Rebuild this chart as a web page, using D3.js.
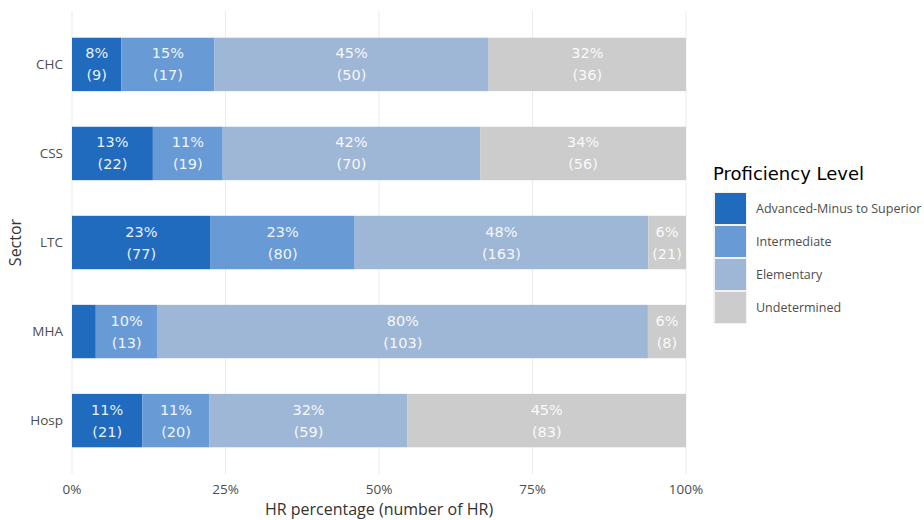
<!DOCTYPE html>
<html>
<head>
<meta charset="utf-8">
<script src="https://cdn.jsdelivr.net/npm/d3@7"></script>
<style>
  body { margin: 0; background: #fff; }
  text { font-family: "Open Sans", "Noto Sans", sans-serif; }
</style>
</head>
<body>
<svg id="chart" width="924" height="520"></svg>
<script>
// sectors top to bottom
var sectors = ["CHC", "CSS", "LTC", "MHA", "Hosp"];
var levels = ["Advanced-Minus to Superior", "Intermediate", "Elementary", "Undetermined"];
var colors = ["#216bbf", "#689bd6", "#9fb7d6", "#cccccc"];

// number of HR per sector, in the order of levels
var advanced     = [9, 22, 77, 5, 21];
var intermediate = [17, 19, 80, 13, 20];
var elementary   = [50, 70, 163, 103, 59];
var undetermined = [36, 56, 21, 8, 83];

var xTicks = [0, 0.25, 0.5, 0.75, 1];

var svg = d3.select("#chart");
var margin = {left: 72, right: 238, top: 11, bottom: 46};
var width = 924 - margin.left - margin.right;
var height = 520 - margin.top - margin.bottom;

var g = svg.append("g")
	.attr("transform", "translate(" + margin.left + "," + margin.top + ")");

var x = d3.scaleLinear().domain([0, 1]).range([0, width]);
var y = d3.scaleBand().domain(sectors).range([0, height]).paddingInner(0.4).paddingOuter(0.3);

// rows: one object per sector with counts
var rows = sectors.map(function(s, i){
	var r = {sector: s};
	r[levels[0]] = advanced[i];
	r[levels[1]] = intermediate[i];
	r[levels[2]] = elementary[i];
	r[levels[3]] = undetermined[i];
	r.total = advanced[i] + intermediate[i] + elementary[i] + undetermined[i];
	return r;
});

var stack = d3.stack().keys(levels)
	.value(function(d, k){ return d[k] / d.total; });
var series = stack(rows);

//gridlines
g.selectAll(".grid")
	.data(xTicks)
	.enter().append("line")
	.attr("x1", function(d){ return x(d); })
	.attr("x2", function(d){ return x(d); })
	.attr("y1", 0)
	.attr("y2", height)
	.attr("stroke", "#ebebeb")
	.attr("stroke-width", 1);

//bars
var layer = g.selectAll(".layer")
	.data(series)
	.enter().append("g")
	.attr("fill", function(d, i){ return colors[i]; });

layer.selectAll("rect")
	.data(function(d){ return d; })
	.enter().append("rect")
	.attr("x", function(d){ return x(d[0]); })
	.attr("width", function(d){ return x(d[1]) - x(d[0]); })
	.attr("y", function(d){ return y(d.data.sector); })
	.attr("height", y.bandwidth());

//labels, skip tiny slices
series.forEach(function(s){
	var lab = g.append("g");
	s.forEach(function(d){
		var share = d[1] - d[0];
		if (share < 0.05) return;
		var cx = x((d[0] + d[1]) / 2);
		var cy = y(d.data.sector) + y.bandwidth() / 2;
		var t = lab.append("text")
			.attr("x", cx)
			.attr("text-anchor", "middle")
			.attr("fill", "#ffffff")
			.attr("fill-opacity", 0.92)
			.style("font-family", "'DejaVu Sans', sans-serif")
			.attr("font-size", "14.5px");
		t.append("tspan").attr("x", cx).attr("y", cy - 6)
			.text(Math.round(share * 100) + "%");
		t.append("tspan").attr("x", cx).attr("y", cy + 16)
			.text("(" + d.data[s.key] + ")");
	});
});

//x axis labels
g.selectAll(".xlab")
	.data(xTicks)
	.enter().append("text")
	.attr("x", function(d){ return x(d); })
	.attr("y", height + 20)
	.attr("text-anchor", "middle")
	.attr("font-size", "13.5px")
	.attr("fill", "#4d4d4d")
	.text(function(d){ return d3.format(".0%")(d); });

//y axis labels
g.selectAll(".ylab")
	.data(sectors)
	.enter().append("text")
	.attr("x", -9)
	.attr("y", function(d){ return y(d) + y.bandwidth() / 2; })
	.attr("dy", "0.35em")
	.attr("text-anchor", "end")
	.attr("font-size", "13.5px")
	.attr("fill", "#4d4d4d")
	.text(function(d){ return d; });

//axis titles
svg.append("text")
	.attr("x", margin.left + width / 2)
	.attr("y", 515)
	.attr("text-anchor", "middle")
	.attr("font-size", "16px")
	.attr("fill", "#333")
	.text("HR percentage (number of HR)");

svg.append("text")
	.attr("transform", "translate(21," + (margin.top + height / 2) + ") rotate(-90)")
	.attr("text-anchor", "middle")
	.attr("font-size", "16px")
	.attr("fill", "#333")
	.text("Sector");

//legend
var legend = svg.append("g").attr("transform", "translate(713,160)");
legend.append("text")
	.attr("x", 0)
	.attr("y", 20)
	.style("font-family", "'DejaVu Sans', sans-serif")
	.attr("font-size", "18px")
	.attr("fill", "#000")
	.text("Proficiency Level");

var item = legend.selectAll(".item")
	.data(levels)
	.enter().append("g")
	.attr("transform", function(d, i){ return "translate(0," + (32 + i * 33) + ")"; });

item.append("rect")
	.attr("width", 34).attr("height", 33)
	.attr("fill", "#f2f2f2");
item.append("rect")
	.attr("x", 2).attr("y", 1)
	.attr("width", 31).attr("height", 31)
	.attr("fill", function(d, i){ return colors[i]; });
item.append("text")
	.attr("x", 43)
	.attr("y", 17)
	.attr("dy", "0.35em")
	.attr("font-size", "12.5px")
	.attr("fill", "#4d4d4d")
	.text(function(d){ return d; });
</script>
</body>
</html>
